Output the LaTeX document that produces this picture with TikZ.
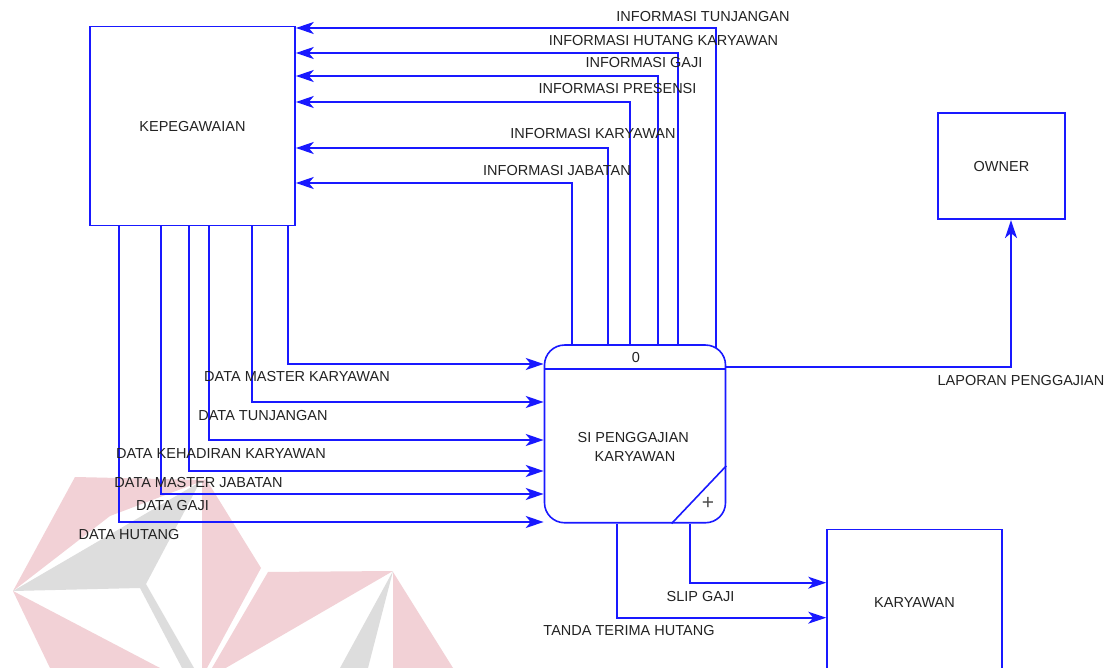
\documentclass[tikz,border=0pt]{standalone}
\usepackage{fontspec}
\setmainfont{Liberation Sans}
\usetikzlibrary{arrows.meta,calc}
\definecolor{dfd}{RGB}{25,25,255}
\definecolor{txt}{RGB}{35,35,35}
\definecolor{wmpink}{RGB}{242,209,214}
\definecolor{wmgrey}{RGB}{221,221,221}
\begin{document}
\begin{tikzpicture}[x=1pt,y=-1pt,
  lbl/.style={inner sep=0pt,text height=10.4pt,text depth=0pt,text=txt,font=\fontsize{14.5}{17}\selectfont},
  entity/.style={lbl,draw=dfd,line width=1.6pt,inner sep=0pt},
  procbox/.style={draw=dfd,line width=1.6pt,rounded corners=20pt,inner sep=0pt},
  flow/.style={draw=dfd,line width=1.8pt,-{Stealth[length=18pt,width=12pt,inset=5pt]}},
  thinline/.style={draw=dfd,line width=1.6pt},
]
\useasboundingbox (0,0) rectangle (1112,668);
\clip (0,0) rectangle (1112,668);
\fill[white] (0,0) rectangle (1112,668);

% watermark
\fill[wmpink] (75,477) -- (205,480) -- (110,516) -- (13,591) -- cycle;
\fill[wmgrey] (13,591) -- (200,482) -- (146,584) -- (194,668) -- (182,668) -- (140,588) -- cycle;
\fill[wmpink] (13,591) -- (50,668) -- (160,668) -- cycle;
\fill[wmpink] (202,481) -- (206,479) -- (261,568) -- (207,668) -- (202,668) -- cycle;
\fill[wmpink] (268,572) -- (393,571) -- (205,680) -- cycle;
\fill[wmgrey] (393,571) -- (368,668) -- (340,668) -- cycle;
\fill[wmpink] (393,572) -- (393,668) -- (453,668) -- cycle;

% entities and process
\node[entity, minimum width=205pt, minimum height=199pt] (kep) at (192.5,126.2) {KEPEGAWAIAN};
\node[entity, minimum width=127pt, minimum height=106pt] (own) at (1001.5,166.3) {OWNER};
\node[entity, minimum width=175pt, minimum height=145.4pt] (kar) at (914.5,602) {KARYAWAN};
\node[procbox, minimum width=181pt, minimum height=177.7pt] (proc) at (635,433.9) {};

\coordinate (pdiv) at (0,369);
\draw[thinline] (proc.west |- pdiv) -- (proc.east |- pdiv);
\coordinate (pd1) at ($(proc.south east)+(0,-57.7)$);
\coordinate (pd2) at ($(proc.south east)+(-54.7,0)$);
\draw[thinline] (pd1) -- (pd2);
\node[lbl] (pnum) at (636,357) {0};
\node[lbl] (pname1) at (633.3,437) {SI PENGGAJIAN};
\node[lbl] (pname2) at (635,456) {KARYAWAN};
\node[inner sep=0pt, text=black!70, font=\fontsize{21}{24}\selectfont] (plus) at (708,503) {+};

% top flows: process -> KEPEGAWAIAN
\coordinate (tx1) at (716,0);   \coordinate (ty1) at (0,28);
\coordinate (tx2) at (678,0);   \coordinate (ty2) at (0,53);
\coordinate (tx3) at (658,0);   \coordinate (ty3) at (0,76);
\coordinate (tx4) at (630,0);   \coordinate (ty4) at (0,102);
\coordinate (tx5) at (608,0);   \coordinate (ty5) at (0,148);
\coordinate (tx6) at (572,0);   \coordinate (ty6) at (0,183);
\coordinate (tstart1) at ($(proc.north -| tx1)+(0,3.5)$);
\draw[flow] (tstart1) |- (kep.east |- ty1);
\draw[flow] (proc.north -| tx2) |- (kep.east |- ty2);
\draw[flow] (proc.north -| tx3) |- (kep.east |- ty3);
\draw[flow] (proc.north -| tx4) |- (kep.east |- ty4);
\draw[flow] (proc.north -| tx5) |- (kep.east |- ty5);
\draw[flow] (proc.north -| tx6) |- (kep.east |- ty6);

\node[lbl] (l1) at (703,16.5) {INFORMASI TUNJANGAN};
\node[lbl] (l2) at (663.5,40) {INFORMASI HUTANG KARYAWAN};
\node[lbl] (l3) at (644,62.5) {INFORMASI GAJI};
\node[lbl] (l4) at (617.5,88.3) {INFORMASI PRESENSI};
\node[lbl] (l5) at (593,133.3) {INFORMASI KARYAWAN};
\node[lbl] (l6) at (557,170.5) {INFORMASI JABATAN};

% left flows: KEPEGAWAIAN -> process
\coordinate (lx1) at (288,0);  \coordinate (ly1) at (0,364);
\coordinate (lx2) at (252,0);  \coordinate (ly2) at (0,402);
\coordinate (lx3) at (209,0);  \coordinate (ly3) at (0,440);
\coordinate (lx4) at (189,0);  \coordinate (ly4) at (0,471);
\coordinate (lx5) at (161,0);  \coordinate (ly5) at (0,494);
\coordinate (lx6) at (119,0);  \coordinate (ly6) at (0,522);
\draw[flow] (kep.south -| lx1) |- (proc.west |- ly1);
\draw[flow] (kep.south -| lx2) |- (proc.west |- ly2);
\draw[flow] (kep.south -| lx3) |- (proc.west |- ly3);
\draw[flow] (kep.south -| lx4) |- (proc.west |- ly4);
\draw[flow] (kep.south -| lx5) |- (proc.west |- ly5);
\draw[flow] (kep.south -| lx6) |- (proc.west |- ly6);

\node[lbl] (d1) at (297,376.7) {DATA MASTER KARYAWAN};
\node[lbl] (d2) at (263,415) {DATA TUNJANGAN};
\node[lbl] (d3) at (221,453) {DATA KEHADIRAN KARYAWAN};
\node[lbl] (d4) at (198.5,482.7) {DATA MASTER JABATAN};
\node[lbl] (d5) at (172.5,505.7) {DATA GAJI};
\node[lbl] (d6) at (129,534) {DATA HUTANG};

% bottom flows: process -> KARYAWAN
\coordinate (bx1) at (617,0);  \coordinate (by1) at (0,617.7);
\coordinate (bx2) at (690,0);  \coordinate (by2) at (0,582.7);
\draw[flow] (proc.south -| bx1) |- (kar.west |- by1);
\draw[flow] (proc.south -| bx2) |- (kar.west |- by2);
\node[lbl] (s1) at (700.5,596) {SLIP GAJI};
\node[lbl] (s2) at (629,630) {TANDA TERIMA HUTANG};

% process -> OWNER
\coordinate (oy) at (0,367.3);
\coordinate (ox) at (1011,0);
\draw[flow] (proc.east |- oy) -| (own.south -| ox);
\node[lbl] (o1) at (1021,380) {LAPORAN PENGGAJIAN};
\end{tikzpicture}
\end{document}
